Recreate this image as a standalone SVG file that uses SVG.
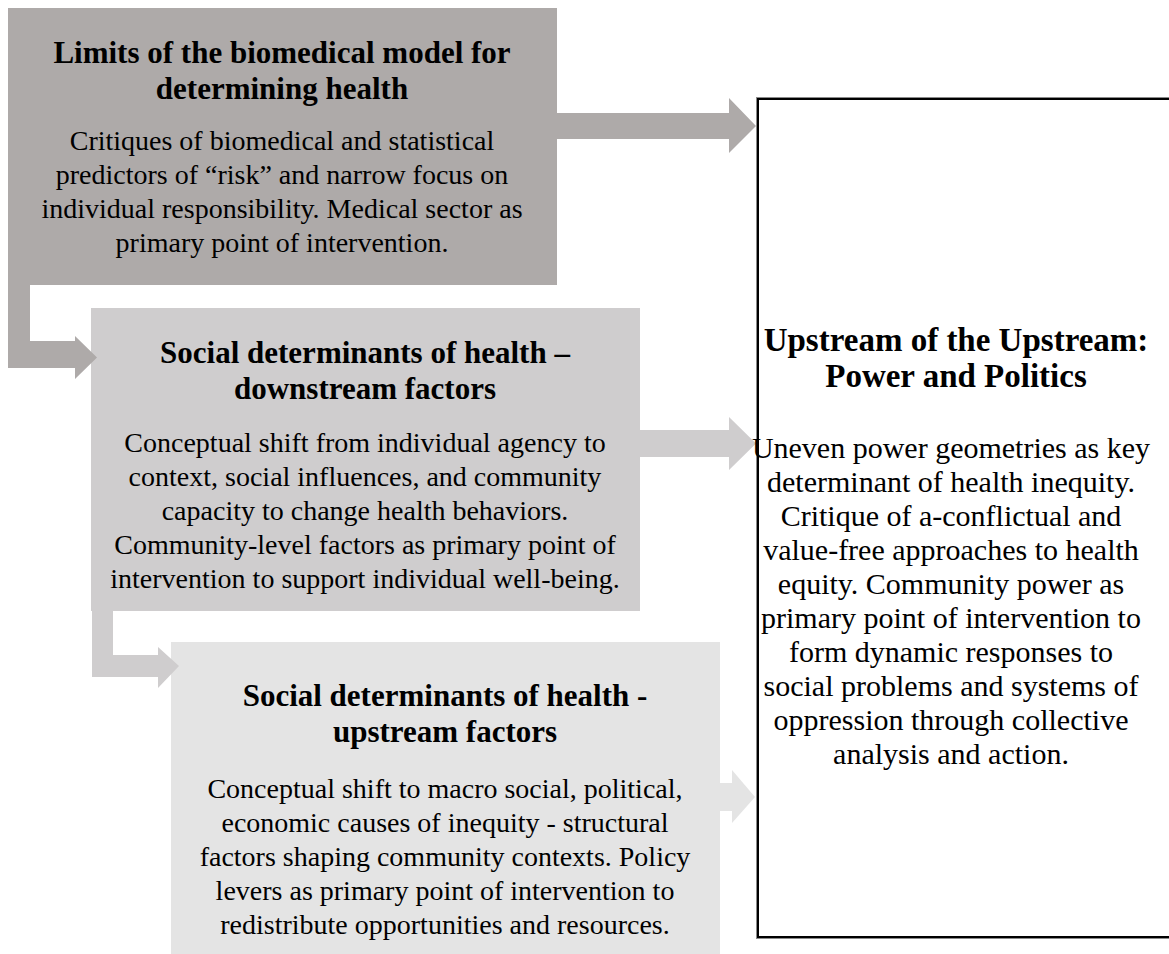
<svg xmlns="http://www.w3.org/2000/svg" width="1169" height="954" viewBox="0 0 1169 954">
  <style>
    text { font-family: "Liberation Serif", "Times New Roman", serif; font-size: 28px; fill: #000; text-anchor: middle; }
    .title { font-weight: bold; font-size: 31px; }
    #node-power text { font-size: 30px; }
    #node-power text.title { font-size: 33px; }
    .b1 { fill: #aeaaa9; }
    .b2 { fill: #cfcdce; }
    .b3 { fill: #e4e4e4; }
  </style>

  <!-- Node: biomedical model -->
  <g id="node-biomedical">
    <rect class="b1" x="8" y="8" width="549" height="277"/>
    <text class="title" x="282" y="63">Limits of the biomedical model for</text>
    <text class="title" x="282" y="99">determining health</text>
    <text x="282" y="150">Critiques of biomedical and statistical</text>
    <text x="282" y="184">predictors of “risk” and narrow focus on</text>
    <text x="282" y="218">individual responsibility. Medical sector as</text>
    <text x="282" y="252">primary point of intervention.</text>
  </g>

  <!-- Node: downstream factors -->
  <g id="node-downstream">
    <rect class="b2" x="91" y="308" width="549" height="303"/>
    <text class="title" x="365" y="363">Social determinants of health –</text>
    <text class="title" x="365" y="399">downstream factors</text>
    <text x="365" y="452">Conceptual shift from individual agency to</text>
    <text x="365" y="486">context, social influences, and community</text>
    <text x="365" y="520">capacity to change health behaviors.</text>
    <text x="365" y="554">Community-level factors as primary point of</text>
    <text x="365" y="588">intervention to support individual well-being.</text>
  </g>

  <!-- Node: upstream factors -->
  <g id="node-upstream">
    <rect class="b3" x="171" y="642" width="549" height="312"/>
    <text class="title" x="445" y="706">Social determinants of health -</text>
    <text class="title" x="445" y="742">upstream factors</text>
    <text x="445" y="798">Conceptual shift to macro social, political,</text>
    <text x="445" y="832">economic causes of inequity - structural</text>
    <text x="445" y="866">factors shaping community contexts. Policy</text>
    <text x="445" y="900">levers as primary point of intervention to</text>
    <text x="445" y="934">redistribute opportunities and resources.</text>
  </g>

  <!-- Connectors -->
  <g id="connectors">
    <!-- elbow: biomedical -> downstream -->
    <path class="b1" d="M8,285 H30 V341 H75 V336 L97,357.5 L75,379 V368 H8 Z"/>
    <!-- elbow: downstream -> upstream -->
    <path class="b2" d="M92,611 H113 V655 H158 V647 L179,666 L158,688 V677 H92 Z"/>
    <!-- right arrows into power and politics -->
    <path class="b1" d="M557,113 H729 V98 L756,126 L729,153 V139 H557 Z"/>
    <path class="b2" d="M640,430 H729 V417 L756,443.5 L729,470 V457 H640 Z"/>
    <path class="b3" d="M720,783 H732 V770 L755,797 L732,823 V811 H720 Z"/>
  </g>

  <!-- Node: power and politics -->
  <g id="node-power">
    <rect x="756.5" y="97.5" width="420" height="841" fill="#fff" stroke="#8a8a8a" stroke-width="1"/>
    <rect x="758" y="99" width="420" height="838" fill="none" stroke="#000" stroke-width="2"/>
    <text class="title" x="956" y="351">Upstream of the Upstream:</text>
    <text class="title" x="956" y="387">Power and Politics</text>
    <text x="951" y="458">Uneven power geometries as key</text>
    <text x="951" y="492">determinant of health inequity.</text>
    <text x="951" y="526">Critique of a-conflictual and</text>
    <text x="951" y="560">value-free approaches to health</text>
    <text x="951" y="594">equity. Community power as</text>
    <text x="951" y="628">primary point of intervention to</text>
    <text x="951" y="662">form dynamic responses to</text>
    <text x="951" y="696">social problems and systems of</text>
    <text x="951" y="730">oppression through collective</text>
    <text x="951" y="764">analysis and action.</text>
  </g>
</svg>
